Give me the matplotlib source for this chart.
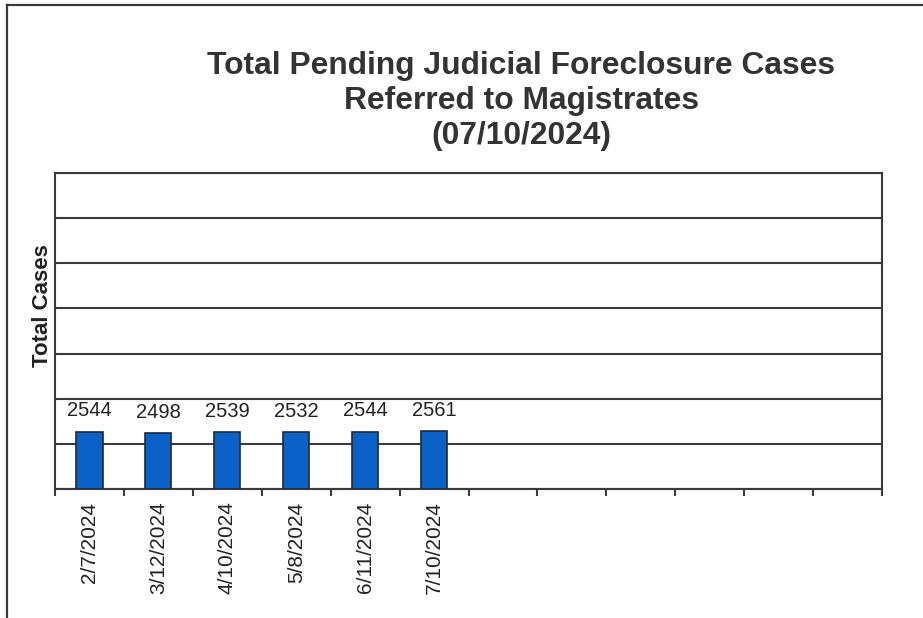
import matplotlib.pyplot as plt
import numpy as np

# chart data
dates = ["2/7/2024", "3/12/2024", "4/10/2024", "5/8/2024", "6/11/2024", "7/10/2024"]
cases = [2544, 2498, 2539, 2532, 2544, 2561]
n_slots = 12  # the chart leaves room for 12 months

title = "Total Pending Judicial Foreclosure Cases\nReferred to Magistrates\n(07/10/2024)"

plt.rcParams['font.family'] = ['Liberation Sans', 'DejaVu Sans']
line_col = '#3a3a3a'

fig = plt.figure(figsize=(9.23, 6.18), dpi=100)

# scanned page frame
fig.add_artist(plt.Line2D([0.008, 1.0], [0.992, 0.992], color=line_col, lw=1.6, transform=fig.transFigure))
fig.add_artist(plt.Line2D([0.008, 0.008], [0.0, 0.992], color=line_col, lw=1.6, transform=fig.transFigure))

ax = fig.add_axes([0.0596, 0.2087, 0.896, 0.5113])

x = np.arange(len(cases))
bars = ax.bar(x, cases, width=0.38, color='#0a62c8', edgecolor='#1e2a3a', linewidth=1.2, zorder=3)

for xi, v in zip(x, cases):
    ax.annotate(str(v), (xi, v), xytext=(0, 8), textcoords='offset points',
                ha='center', va='bottom', fontsize=14.5, color='#222222')

ax.set_xlim(-0.5, n_slots - 0.5)
ax.set_ylim(0, 14000)
ax.set_yticks(np.arange(0, 14001, 2000))
ax.set_yticklabels([])
ax.tick_params(axis='y', length=0)
ax.grid(axis='y', color=line_col, linewidth=1.5, zorder=1)

# category labels at centres, tick marks at the boundaries
labels = dates + [""] * (n_slots - len(dates))
ax.set_xticks(np.arange(n_slots))
ax.set_xticklabels(labels, rotation=90, fontsize=15, color='#222222')
ax.tick_params(axis='x', which='major', length=0, pad=9)
ax.set_xticks(np.arange(n_slots + 1) - 0.5, minor=True)
ax.tick_params(axis='x', which='minor', length=5, width=1.5, color=line_col, direction='out')

for s in ax.spines.values():
    s.set_color(line_col)
    s.set_linewidth(1.5)

ax.set_ylabel("Total Cases", fontsize=16, fontweight='bold', color='#222222')
ax.yaxis.set_label_coords(-0.003, 0.58)

fig.text(0.565, 0.918, title, ha='center', va='top', fontsize=22.9, fontweight='bold',
         color='#333333', linespacing=1.22)

fig.savefig("out.png", dpi=100)
